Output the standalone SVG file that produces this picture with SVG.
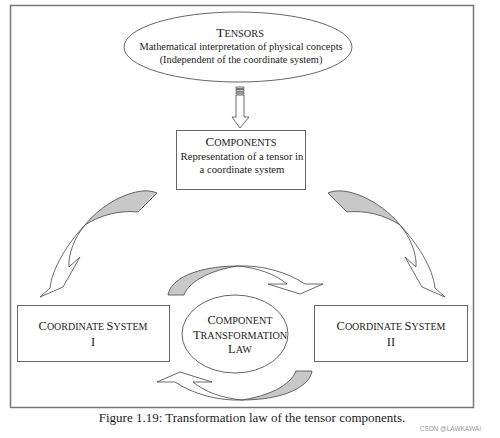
<svg xmlns="http://www.w3.org/2000/svg" width="500" height="438" viewBox="0 0 500 438">
<style>
.t{font-family:"Liberation Serif","Times New Roman",serif;fill:#222;text-anchor:middle}
.box{fill:#fff;stroke:#666;stroke-width:1}
.ar{stroke:#444;stroke-width:0.8;stroke-linejoin:round}
.w{fill:#fff}
.g{fill:#c8c8c8}
</style>
<defs>
<g id="bigArrow">
<path class="ar g" d="M157,193 C140,185 105,200 85,225 C100,215 120,210 138,212 Z"/>
<path class="ar w" d="M85,225 C68,243 52,268 50,288 L40,297 L63,287 L80,257 L69,267 C68,255 74,238 85,225 Z"/>
</g>
<g id="cycArrow">
<path class="ar g" d="M168,295 C170,280 195,266 238,266 C212,270 190,280 184,295 Z"/>
<path class="ar w" d="M238,266 C262,265 287,272 305,284 L323,284 L300,294 L268,284 L287,284 C275,274 258,268 238,266 Z"/>
</g>
</defs>
<rect width="500" height="438" fill="#fff"/>
<rect x="10.5" y="5.5" width="463" height="402" fill="none" stroke="#777" stroke-width="1.5"/>
<g id="connectors">
<g id="down-arrow" class="ar">
<rect class="w" x="236" y="87" width="8" height="1.6"/>
<rect class="w" x="236" y="89.6" width="8" height="1.6"/>
<rect class="w" x="236" y="92.2" width="8" height="1.6"/>
<path class="w" d="M236,95 L236,117 L232,117 L240,128 L249,117 L244,117 L244,95 Z"/>
</g>
<use id="arrow-left" href="#bigArrow"/>
<use id="arrow-right" href="#bigArrow" transform="translate(485,0) scale(-1,1)"/>
<use id="arrow-top" href="#cycArrow"/>
<use id="arrow-bottom" href="#cycArrow" transform="rotate(180 240 333)"/>
</g>
<g id="tensors">
<ellipse class="box" cx="238" cy="47" rx="114" ry="35"/>
<text class="t" x="240" y="37" font-size="13.5">T<tspan font-size="10.3">ENSORS</tspan></text>
<text class="t" x="241" y="50" font-size="10.4">Mathematical interpretation of physical concepts</text>
<text class="t" x="241" y="63" font-size="10.4">(Independent of the coordinate system)</text>
</g>
<g id="components">
<rect class="box" x="176.5" y="130.5" width="129" height="59"/>
<text class="t" x="241" y="146" font-size="13">C<tspan font-size="10.2">OMPONENTS</tspan></text>
<text class="t" x="242" y="160" font-size="10.7">Representation of a tensor in</text>
<text class="t" x="242" y="173" font-size="10.7">a coordinate system</text>
</g>
<g id="coord-1">
<rect class="box" x="17.5" y="305.5" width="152" height="56"/>
<text class="t" x="93" y="330" font-size="12.5">C<tspan font-size="10">OORDINATE </tspan>S<tspan font-size="10">YSTEM</tspan></text>
<text class="t" x="93" y="345.5" font-size="12.5">I</text>
</g>
<g id="coord-2">
<rect class="box" x="314.5" y="305.5" width="153" height="56"/>
<text class="t" x="391" y="330" font-size="12.5">C<tspan font-size="10">OORDINATE </tspan>S<tspan font-size="10">YSTEM</tspan></text>
<text class="t" x="391" y="345.5" font-size="12.5">II</text>
</g>
<g id="law">
<ellipse class="box" cx="235" cy="334" rx="53" ry="39"/>
<text class="t" x="240" y="324" font-size="12.5">C<tspan font-size="10.2">OMPONENT</tspan></text>
<text class="t" x="240" y="338.5" font-size="12.5">T<tspan font-size="10.2">RANSFORMATION</tspan></text>
<text class="t" x="240" y="353" font-size="12.5">L<tspan font-size="10.2">AW</tspan></text>
</g>
<text class="t" x="252" y="422" font-size="13">Figure 1.19: Transformation law of the tensor components.</text>
<text x="481" y="431" font-family="Liberation Sans,Arial,sans-serif" font-size="6.5" fill="#999" text-anchor="end">CSDN @LAWKAWAI</text>
</svg>
